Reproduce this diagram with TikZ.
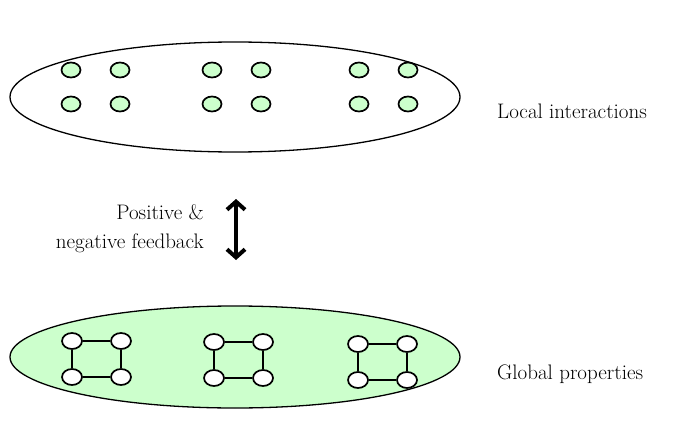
\documentclass[tikz,border=0pt]{standalone}
\usetikzlibrary{arrows.meta,shapes.geometric}
\usepackage{fontspec}
\setmainfont{Latin Modern Roman}
\definecolor{lgreen}{HTML}{CCFFCC}
\begin{document}
\begin{tikzpicture}[x=1pt,y=-1pt,
  big/.style={draw=black,line width=1.3pt},
  dot/.style={draw=black,line width=1.7pt,fill=lgreen,ellipse,minimum width=19pt,minimum height=15pt,inner sep=0pt},
  wdot/.style={draw=black,line width=1.7pt,fill=white,ellipse,minimum width=20pt,minimum height=16pt,inner sep=0pt},
  txt/.style={font=\fontsize{21}{25}\selectfont,inner sep=0pt}]
\useasboundingbox (0,0) rectangle (685,441);
\draw[big] (235,97) ellipse [x radius=225, y radius=55];
\draw[big,fill=lgreen] (235,357) ellipse [x radius=225, y radius=51];
% top dots
\foreach \gx/\n in {71/a,212/b,359/c}{
  \node[dot] (\n1) at (\gx,70) {};
  \node[dot] (\n2) at (\gx+49,70) {};
  \node[dot] (\n3) at (\gx,104) {};
  \node[dot] (\n4) at (\gx+49,104) {};
}
% bottom squares
\foreach \gx/\gy/\n in {72/341/p,214/342/q,358/344/r}{
  \node[wdot] (\n1) at (\gx,\gy) {};
  \node[wdot] (\n2) at (\gx+49,\gy) {};
  \node[wdot] (\n3) at (\gx,\gy+36) {};
  \node[wdot] (\n4) at (\gx+49,\gy+36) {};
  \draw[line width=1.6pt] (\n1) -- (\n2) -- (\n4) -- (\n3) -- (\n1);
}
\coordinate (at) at (236,199);
\coordinate (ab) at (236,260);
\draw[line width=4pt,{Straight Barb[length=8pt,width=18pt]}-{Straight Barb[length=8pt,width=18pt]}] (at) -- (ab);
\node[txt,anchor=base east] (t1) at (204,219) {Positive \&};
\node[txt,anchor=base east] (t2) at (204,248) {negative feedback};
\node[txt,anchor=base west] (L1) at (497,119) {Local interactions};
\node[txt,anchor=base west] (L2) at (497,379) {Global properties};
\end{tikzpicture}
\end{document}
